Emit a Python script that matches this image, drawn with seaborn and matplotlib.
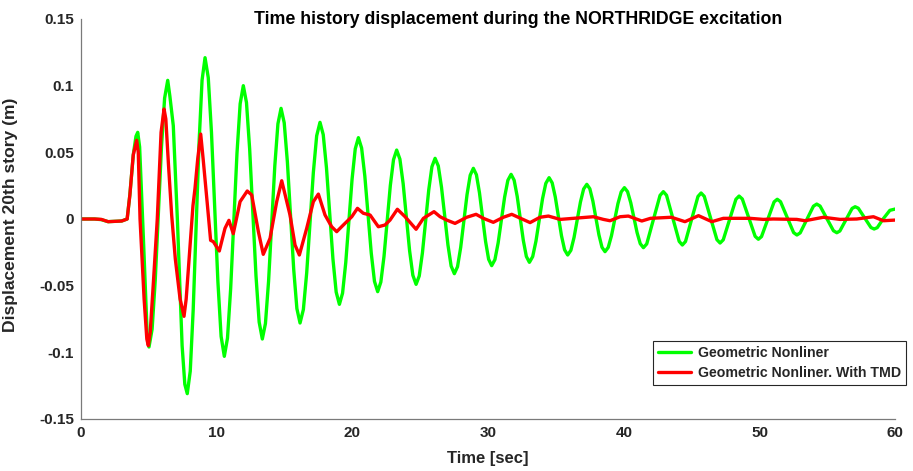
import numpy as np
import pandas as pd
import matplotlib
matplotlib.use("Agg")
import matplotlib.pyplot as plt
import seaborn as sns

# ---- data ----
green_t = [0.0, 1.0, 1.5, 2.0, 3.0, 3.4, 3.6, 3.85, 4.05, 4.18,
           4.32, 4.6, 4.87, 5.01,
           5.24, 5.47, 5.70, 5.93, 6.16, 6.39,
           6.55, 6.8, 7.1, 7.45, 7.65, 7.83,
           8.05, 8.267, 8.485, 8.703, 8.92, 9.14,
           9.377, 9.613, 9.85, 10.087, 10.323, 10.56,
           10.793, 11.027, 11.26, 11.493, 11.727, 11.96,
           12.193, 12.427, 12.66, 12.893, 13.127, 13.36,
           13.59, 13.82, 14.05, 14.28, 14.51, 14.74,
           14.973, 15.207, 15.44, 15.673, 15.907, 16.14,
           16.385, 16.63, 16.875, 17.12, 17.365, 17.61,
           17.848, 18.087, 18.325, 18.563, 18.802, 19.04,
           19.273, 19.507, 19.74, 19.973, 20.207, 20.44,
           20.677, 20.913, 21.15, 21.387, 21.623, 21.86,
           22.093, 22.327, 22.56, 22.793, 23.027, 23.26,
           23.498, 23.737, 23.975, 24.213, 24.452, 24.69,
           24.923, 25.157, 25.39, 25.623, 25.857, 26.09,
           26.327, 26.563, 26.80, 27.037, 27.273, 27.51,
           27.743, 27.977, 28.21, 28.443, 28.677, 28.91,
           29.135, 29.36, 29.585, 29.81, 30.035, 30.26,
           30.498, 30.737, 30.975, 31.213, 31.452, 31.69,
           31.915, 32.14, 32.365, 32.59, 32.815, 33.04,
           33.282, 33.523, 33.765, 34.007, 34.248, 34.49,
           34.718, 34.947, 35.175, 35.403, 35.632, 35.86,
           36.095, 36.33, 36.565, 36.8, 37.035, 37.27,
           37.493, 37.717, 37.94, 38.163, 38.387, 38.61,
           38.848, 39.087, 39.325, 39.563, 39.802, 40.04,
           40.273, 40.507, 40.74, 40.973, 41.207, 41.44,
           41.685, 42.175, 42.665, 42.91,
           43.143, 43.61, 44.077, 44.31,
           44.54, 45.0, 45.46, 45.69,
           45.923, 46.39, 46.857, 47.09,
           47.323, 47.79, 48.257, 48.49,
           48.727, 49.2, 49.673, 49.91,
           50.142, 50.605, 51.068, 51.3,
           51.542, 52.025, 52.508, 52.75,
           52.993, 53.48, 53.967, 54.21,
           54.457, 54.95, 55.443, 55.69,
           55.915, 56.365, 56.815, 57.04,
           57.273, 57.74, 58.207, 58.44,
           58.67, 59.1, 59.6, 60.0]
green_y = [0.0, 0.0, -0.0005, -0.002, -0.0015, 0.0, 0.018, 0.048, 0.062, 0.065,
           0.054, -0.015, -0.085, -0.096,
           -0.0826, -0.046, 0.004, 0.054, 0.0906, 0.104,
           0.092, 0.070, 0.0, -0.095, -0.124, -0.131,
           -0.1141, -0.068, -0.005, 0.058, 0.1041, 0.121,
           0.106, 0.065, 0.009, -0.047, -0.088, -0.103,
           -0.0894, -0.0523, -0.0015, 0.0493, 0.0864, 0.100,
           0.0873, 0.0525, 0.005, -0.0425, -0.0773, -0.090,
           -0.0784, -0.0468, -0.0035, 0.0398, 0.0714, 0.083,
           0.0722, 0.0428, 0.0025, -0.0378, -0.0672, -0.078,
           -0.0679, -0.0404, -0.0028, 0.0349, 0.0624, 0.0725,
           0.0633, 0.0384, 0.0043, -0.0299, -0.0548, -0.064,
           -0.0556, -0.0328, -0.0015, 0.0298, 0.0526, 0.061,
           0.0532, 0.0322, 0.0033, -0.0256, -0.0467, -0.0545,
           -0.0473, -0.028, -0.0014, 0.0252, 0.0445, 0.0517,
           0.0449, 0.0265, 0.0014, -0.0239, -0.0422, -0.049,
           -0.0427, -0.0254, -0.0018, 0.0218, 0.0392, 0.0455,
           0.0398, 0.0238, 0.0023, -0.0194, -0.0353, -0.041,
           -0.0358, -0.0213, -0.0015, 0.0182, 0.0328, 0.038,
           0.0332, 0.0197, 0.0015, -0.0168, -0.0302, -0.035,
           -0.0305, -0.0179, -0.0008, 0.0164, 0.029, 0.0335,
           0.0291, 0.017, 0.0005, -0.016, -0.0281, -0.0325,
           -0.0282, -0.0166, -0.0008, 0.0152, 0.0267, 0.031,
           0.0271, 0.0165, 0.002, -0.0125, -0.0231, -0.027,
           -0.0235, -0.0138, -0.0005, 0.0127, 0.0225, 0.026,
           0.0227, 0.0134, 0.0008, -0.0119, -0.0212, -0.0245,
           -0.0213, -0.0125, -0.0005, 0.0115, 0.0203, 0.0235,
           0.0205, 0.0122, 0.001, -0.0102, -0.0185, -0.0215,
           -0.0187, -0.0005, 0.0177, 0.0205,
           0.0178, 0.0005, -0.0168, -0.0195,
           -0.0169, 0.0, 0.0169, 0.0195,
           0.017, 0.0008, -0.0155, -0.018,
           -0.0156, -0.0004, 0.0148, 0.0172,
           0.015, 0.001, -0.013, -0.0152,
           -0.0132, -0.0002, 0.0128, 0.0148,
           0.013, 0.0014, -0.0102, -0.012,
           -0.0104, -0.0004, 0.0096, 0.0112,
           0.0097, 0.0005, -0.0088, -0.0103,
           -0.009, -0.0006, 0.0079, 0.0092,
           0.0081, 0.0009, -0.0064, -0.0075,
           -0.0065, 0.0, 0.0065, 0.0075]

red_t = [0.0, 1.0, 1.5, 2.0, 3.0, 3.4, 3.6, 3.85, 4.1,
         4.22, 4.35, 4.65, 4.85, 4.96,
         5.1, 5.35, 5.62, 5.9, 6.12,
         6.25, 6.45, 6.68, 6.95, 7.3, 7.59,
         7.75, 8.0, 8.25, 8.4, 8.6, 8.82,
         9.0, 9.3, 9.55, 9.75, 10.19, 10.61, 10.9, 11.22, 11.72, 12.25,
         12.58, 13.07, 13.43, 13.93, 14.42, 14.79, 15.4, 15.77, 16.09,
         16.63, 17.12, 17.49, 17.98, 18.47, 18.84, 19.33, 19.58, 19.95,
         20.37, 20.8, 21.3, 21.91, 22.4, 22.77, 23.31, 23.88, 24.69,
         25.23, 26.01, 26.46, 26.95, 27.56, 28.42, 29.11, 29.65, 30.38,
         31.12, 31.74, 33.09, 33.82, 34.44, 35.3, 36.28, 37.75, 38.49,
         38.98, 39.72, 40.33, 41.32, 41.96, 43.5, 44.5, 45.5, 46.48,
         47.33, 49.3, 50.28, 51.0, 52.74, 53.35, 54.7, 55.93, 57.16,
         58.39, 59.13, 60.0]
red_y = [0.0, 0.0, -0.0003, -0.002, -0.0015, 0.0, 0.018, 0.048, 0.059,
         0.05, 0.0, -0.06, -0.09, -0.095,
         -0.085, -0.045, 0.0, 0.065, 0.0825,
         0.075, 0.04, 0.003, -0.03, -0.06, -0.073,
         -0.06, -0.025, 0.01, 0.023, 0.045, 0.0637,
         0.045, 0.012, -0.016, -0.017, -0.024, -0.007, -0.001, -0.011, 0.013, 0.021,
         0.018, -0.0095, -0.0265, -0.0145, 0.013, 0.0287, 0.003, -0.0195, -0.027,
         -0.007, 0.013, 0.0187, 0.003, -0.0058, -0.0095, -0.0045, -0.002, 0.0017,
         0.008, 0.0043, 0.003, -0.0058, -0.0045, -0.0008, 0.0073, 0.0017, -0.0077,
         0.0005, 0.0055, 0.0017, -0.0008, -0.0033, 0.0013, 0.0035, 0.0005, -0.0025,
         0.0013, 0.0035, -0.0027, 0.0013, 0.0022, -0.0003, 0.0005, 0.0017, -0.0003,
         -0.0013, 0.0017, 0.0022, -0.0015, 0.0005, 0.0013, -0.002, 0.0025, -0.002,
         0.0005, 0.0005, -0.0003, 0.0, -0.0003, -0.0013, 0.0013, -0.0003, 0.0,
         0.0017, -0.0013, -0.0008]

series_names = ["Geometric Nonliner", "Geometric Nonliner. With TMD"]
series_colors = ["#00FF00", "#FF0000"]

x_ticks = [0, 10, 20, 30, 40, 50, 60]
y_ticks = [-0.15, -0.1, -0.05, 0, 0.05, 0.1, 0.15]
y_tick_labels = ["-0.15", "-0.1", "-0.05", "0", "0.05", "0.1", "0.15"]

title_text = "Time history displacement during the NORTHRIDGE excitation"
x_label = "Time [sec]"
y_label = "Displacement 20th story (m)"

# ---- build long-form table ----
df = pd.concat([
    pd.DataFrame({"t": green_t, "y": green_y, "series": series_names[0]}),
    pd.DataFrame({"t": red_t, "y": red_y, "series": series_names[1]}),
], ignore_index=True)

sns.set_style("white")
plt.rcParams["font.family"] = ["Liberation Sans", "DejaVu Sans"]
plt.rcParams["font.weight"] = "bold"

W, H = 913, 471
fig = plt.figure(figsize=(W / 100, H / 100), dpi=100)
ax = fig.add_axes([81 / W, 1 - 419 / H, (895.3 - 81) / W, 400 / H])

sns.lineplot(data=df, x="t", y="y", hue="series", palette=series_colors,
             hue_order=series_names, estimator=None, sort=False,
             linewidth=2.4, ax=ax)
for line in ax.lines:
    line.set_solid_joinstyle("round")
    line.set_solid_capstyle("round")

ax.set_xlim(0, 60)
ax.set_ylim(-0.15, 0.15)
ax.set_xticks(x_ticks)
ax.set_xticklabels([str(v) for v in x_ticks])
ax.set_yticks(y_ticks)
ax.set_yticklabels(y_tick_labels)

axis_gray = "#7a7a7a"
text_dark = "#262626"
for side in ["top", "right"]:
    ax.spines[side].set_visible(False)
for side in ["left", "bottom"]:
    ax.spines[side].set_color(axis_gray)
    ax.spines[side].set_linewidth(0.9)
ax.tick_params(axis="both", direction="in", length=6, width=0.9,
               color=axis_gray, labelcolor=text_dark, labelsize=11, pad=5)
for lab in ax.get_xticklabels() + ax.get_yticklabels():
    lab.set_fontweight("bold")

ax.set_xlabel(x_label, fontsize=12, fontweight="bold", color=text_dark, labelpad=8)
ax.set_ylabel(y_label, fontsize=12.6, fontweight="bold", color=text_dark, labelpad=8)
ax.yaxis.set_label_coords(-0.0774, 0.511)

fig.text(518 / W, 1 - 19 / H, title_text, ha="center", va="center",
         fontsize=12.8, fontweight="bold", color="black")

leg = ax.legend(loc="upper left", bbox_to_anchor=(653 / W, 1 - 341 / H),
                bbox_transform=fig.transFigure, frameon=True, fancybox=False,
                framealpha=1, edgecolor=text_dark, fontsize=10.2,
                handlelength=2.35, handletextpad=0.46, borderpad=0.35,
                labelspacing=0.42, borderaxespad=0)
leg.get_frame().set_linewidth(0.8)
for txt in leg.get_texts():
    txt.set_fontweight("bold")
for line in leg.get_lines():
    line.set_linewidth(2.4)

fig.savefig("out.png", dpi=100)
